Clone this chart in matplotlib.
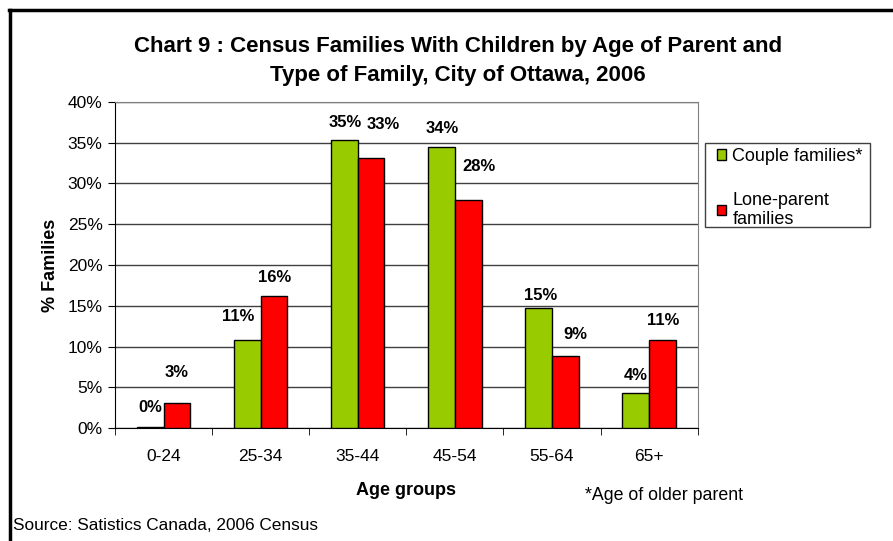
import matplotlib

matplotlib.use("Agg")
import matplotlib.pyplot as plt
import numpy as np
from matplotlib.lines import Line2D
from matplotlib.patches import Rectangle

plt.rcParams["font.family"] = ["Liberation Sans", "DejaVu Sans"]

# data (percent of families)
age_groups = ["0-24", "25-34", "35-44", "45-54", "55-64", "65+"]
couple = [0.2, 10.8, 35.3, 34.4, 14.7, 4.3]
lone_parent = [3.1, 16.2, 33.1, 28.0, 8.9, 10.8]
series_names = ["Couple families*", "Lone-parent\nfamilies"]
y_ticks = [0, 5, 10, 15, 20, 25, 30, 35, 40]

# label nudges in pixels (dx, dy above bar top), hand placed like the original
couple_dx = [0, -9, 1, 1, 2, 0]
couple_dy = [19, 24, 18, 19, 13, 18]
lone_dx = [0, 1, 12, 11, 10, 1]
lone_dy = [30, 19, 34, 33, 21, 20]

GREEN = "#99CC00"
RED = "#FF0000"

W, H = 893, 541
fig = plt.figure(figsize=(W / 100, H / 100), dpi=100)
ax = fig.add_axes([115 / W, 1 - 428.3 / H, (697.7 - 115) / W, (428.3 - 101.7) / H])

x = np.arange(len(age_groups))
bw = 0.275
b1 = ax.bar(x - bw / 2, couple, bw, color=GREEN, edgecolor="black", linewidth=1, zorder=3,
            label=series_names[0])
b2 = ax.bar(x + bw / 2, lone_parent, bw, color=RED, edgecolor="black", linewidth=1, zorder=3,
            label=series_names[1])

px = 0.72  # points per pixel at 100 dpi
for bars, vals, dxs, dys in [(b1, couple, couple_dx, couple_dy), (b2, lone_parent, lone_dx, lone_dy)]:
    for b, v, dx, dy in zip(bars, vals, dxs, dys):
        ax.annotate(f"{round(v):d}%", (b.get_x() + b.get_width() / 2, v),
                    xytext=(dx * px, dy * px), textcoords="offset points",
                    ha="center", va="center", fontsize=12, fontweight="bold")

ax.set_xlim(-0.5, len(age_groups) - 0.5)
ax.set_ylim(0, 40)
ax.set_yticks(y_ticks)
ax.set_yticklabels([f"{t}%" for t in y_ticks])
ax.yaxis.grid(True, color="#404040", linewidth=1, zorder=0)

# category labels at centres, tick marks at boundaries
ax.set_xticks(x)
ax.set_xticklabels(age_groups)
ax.set_xticks(np.arange(-0.5, len(age_groups)), minor=True)
ax.tick_params(axis="x", which="major", length=0, pad=15, labelsize=12.5)
ax.tick_params(axis="x", which="minor", length=5, direction="out", color="black")
ax.tick_params(axis="y", length=5, direction="out", labelsize=12.5, pad=4)

for s in ["top", "right"]:
    ax.spines[s].set_color("#808080")
for s in ["left", "bottom"]:
    ax.spines[s].set_color("black")

ax.set_ylabel("% Families", fontsize=13, fontweight="bold", labelpad=6)
ax.set_xlabel("Age groups", fontsize=13, fontweight="bold", labelpad=13)

# legend without its own frame, boxed separately so the padding can be uneven
leg = fig.legend(handles=[b1, b2], loc="upper left", bbox_to_anchor=(717 / W, 1 - 148 / H),
                 frameon=False, fontsize=13,
                 handlelength=0.5, handleheight=0.5, handletextpad=0.35,
                 labelspacing=1.5, borderpad=0, borderaxespad=0)
for t in leg.get_texts():
    t.set_linespacing(1.15)
fig.add_artist(Rectangle((705 / W, 1 - 227 / H), 165 / W, 84 / H, transform=fig.transFigure,
                         facecolor="none", edgecolor="#404040", linewidth=1))

fig.text(458 / W, 1 - 61 / H,
         "Chart 9 : Census Families With Children by Age of Parent and\nType of Family, City of Ottawa, 2006",
         ha="center", va="center", fontsize=16, fontweight="bold", linespacing=1.5)
fig.text(585 / W, 1 - 496 / H, "*Age of older parent", ha="left", va="center", fontsize=12.8)
fig.text(13 / W, 1 - 526 / H, "Source: Satistics Canada, 2006 Census", ha="left", va="center", fontsize=12.4)

# thick outer frame, cut off at the right and bottom like the original
fig.add_artist(Line2D([10 / W, 10 / W], [0, 1 - 10 / H], color="black", linewidth=2.5))
fig.add_artist(Line2D([8.8 / W, 1], [1 - 10 / H, 1 - 10 / H], color="black", linewidth=2.5))

fig.savefig("out.png", dpi=100)
